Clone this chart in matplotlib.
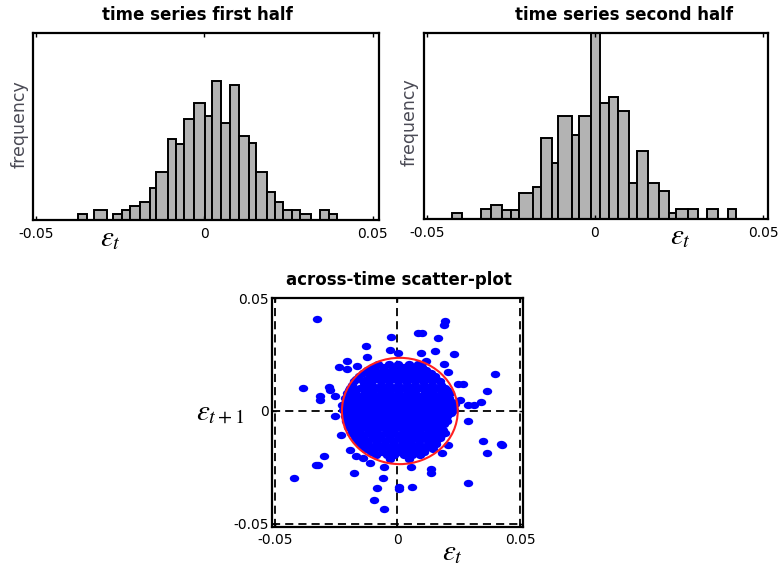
import numpy as np
import matplotlib
matplotlib.use("agg")
import matplotlib.pyplot as plt
from matplotlib.patches import Ellipse
from matplotlib.path import Path
from matplotlib.transforms import Affine2D

# histogram of the first half: bin edges and bar heights (arbitrary frequency units)
h1_edges = [-0.0376, -0.0350, -0.0328, -0.0290, -0.0271, -0.0246, -0.0221, -0.0191,
            -0.0162, -0.0144, -0.0109, -0.0085, -0.0061, -0.0031, 0.0002, 0.0023,
            0.0049, 0.0076, 0.0102, 0.0132, 0.0152, 0.0185, 0.0209, 0.0234,
            0.0261, 0.0285, 0.0316, 0.0343, 0.0369, 0.0394]
h1_heights = [19, 0, 31, 0, 19, 29, 41, 53, 97, 144, 241, 227, 301, 349, 311,
              415, 289, 403, 252, 229, 144, 84, 53, 29, 29, 17, 0, 30, 17]

# histogram of the second half
h2_edges = [-0.0424, -0.0396, -0.0339, -0.0310, -0.0277, -0.0250, -0.0225, -0.0185,
            -0.0161, -0.0127, -0.0109, -0.0069, -0.0048, -0.0012, 0.0015, 0.0041,
            0.0069, 0.0102, 0.0126, 0.0156, 0.0190, 0.0221, 0.0242, 0.0277,
            0.0305, 0.0332, 0.0364, 0.0394, 0.0419]
h2_heights = [20, 0, 30, 43, 28, 28, 78, 98, 243, 168, 311, 253, 311, 600, 348,
              368, 326, 110, 205, 108, 85, 20, 30, 30, 0, 30, 0, 30]

hist_ticks = [-0.05, 0, 0.05]
hist_ticklabels = ['-0.05', '0', '0.05']

# scatter: isolated points around the cloud
outer_x = [-0.0326, 0.0194, 0.0192, 0.0086, 0.0102, 0.0165, -0.0024, 0.0154, 0.0095,
           0.0232, -0.0126, -0.0030, 0.0004, -0.0122, -0.0204, 0.0116, -0.0239,
           -0.0204, -0.0166, 0.0192, 0.0052, -0.0020, 0.0208, 0.0398, 0.0246, 0.0269,
           -0.0384, -0.0280, -0.0276, -0.0316, -0.0316, -0.0255, 0.0364, 0.0341,
           0.0289, 0.0314, 0.0256, -0.0227, -0.0255, 0.0287, -0.0231, 0.0348, 0.0423,
           0.0428, 0.0364, 0.0208, 0.0181, -0.0194, -0.0299, -0.0330, -0.0323,
           -0.0167, -0.0140, -0.0113, -0.0054, 0.0056, 0.0137, 0.0137, -0.0177,
           -0.0421, -0.0058, 0.0287, -0.0082, 0.0007, 0.0007, 0.0059, -0.0095, -0.0054]
outer_y = [0.0408, 0.0400, 0.0383, 0.0347, 0.0347, 0.0326, 0.0330, 0.0268, 0.0259,
           0.0251, 0.0289, 0.0269, 0.0256, 0.0241, 0.0223, 0.0223, 0.0196,
           0.0186, 0.0198, 0.0207, 0.0196, 0.0186, 0.0171, 0.0165, 0.0121, 0.0121,
           0.0100, 0.0107, 0.0092, 0.0066, 0.0048, 0.0067, 0.0088, 0.0040,
           0.0025, 0.0025, 0.0048, 0.0027, -0.0024, -0.0046, -0.0106, -0.0135, -0.0147,
           -0.0153, -0.0188, -0.0150, -0.0188, -0.0173, -0.0202, -0.0242, -0.0242,
           -0.0202, -0.0210, -0.0232, -0.0251, -0.0251, -0.0259, -0.0277, -0.0277,
           -0.0299, -0.0299, -0.0321, -0.0341, -0.0339, -0.0347, -0.0339, -0.0396, -0.0436]

# scatter: dense central cloud, read row by row (y, x positions)
cloud_rows = [
    (0.0208, [-0.0078, -0.0036, 0.0004, 0.0047, 0.0083]),
    (0.0195, [-0.0100, -0.0058, -0.0017, 0.0025, 0.0066, 0.0102]),
    (0.0182, [-0.0124, -0.0092, -0.0053, -0.0018, 0.0016, 0.0052, 0.0088, 0.0118]),
    (0.0169, [-0.0141, -0.0112, -0.0074, -0.0038, -0.0003, 0.0033, 0.0068, 0.0101, 0.0135]),
    (0.0156, [-0.0158, -0.0097, -0.0062, -0.0024, 0.0012, 0.0043, 0.0081, 0.0114, 0.0152]),
    (0.0143, [-0.0167, -0.0124, -0.0087, -0.0052, -0.0016, 0.0018, 0.0053, 0.0089,
              0.0124, 0.0158]),
    (0.0131, [-0.0176, -0.0139, -0.0107, -0.0068, -0.0036, 0.0002, 0.0034, 0.0071,
              0.0104, 0.0141, 0.0172]),
    (0.0117, [-0.0184, -0.0136, -0.0102, -0.0068, -0.0033, 0.0004, 0.0038, 0.0072,
              0.0107, 0.0143, 0.0179]),
    (0.0104, [-0.0192, -0.0153, -0.0121, -0.0083, -0.0052, -0.0014, 0.0021, 0.0054,
              0.0092, 0.0124, 0.0161, 0.0193]),
    (0.0091, [-0.0199, -0.0170, -0.0136, -0.0101, -0.0067, -0.0032, 0.0003, 0.0038,
              0.0073, 0.0108, 0.0142, 0.0177, 0.0202]),
    (0.0079, [-0.0204, -0.0171, -0.0133, -0.0101, -0.0063, -0.0031, 0.0006, 0.0042,
              0.0073, 0.0111, 0.0146, 0.0181, 0.0213]),
    (0.0067, [-0.0193, -0.0158, -0.0123, -0.0087, -0.0052, -0.0017, 0.0019, 0.0054,
              0.0089, 0.0123, 0.0158, 0.0193]),
    (0.0056, [-0.0212, -0.0174, -0.0142, -0.0104, -0.0071, -0.0033, 0.0002, 0.0036,
              0.0069, 0.0106, 0.0138, 0.0176, 0.0209]),
    (0.0042, [-0.0198, -0.0161, -0.0126, -0.0092, -0.0057, -0.0022, 0.0013, 0.0048,
              0.0083, 0.0118, 0.0153, 0.0188, 0.0221]),
    (0.0029, [-0.0216, -0.0181, -0.0143, -0.0112, -0.0074, -0.0041, -0.0004, 0.0031,
              0.0063, 0.0102, 0.0133, 0.0171, 0.0204, 0.0233]),
    (0.0016, [-0.0201, -0.0166, -0.0131, -0.0096, -0.0061, -0.0026, 0.0009, 0.0044,
              0.0079, 0.0114, 0.0149, 0.0184, 0.0216]),
    (0.0004, [-0.0221, -0.0183, -0.0152, -0.0114, -0.0082, -0.0044, -0.0011, 0.0026,
              0.0058, 0.0096, 0.0129, 0.0163, 0.0201, 0.0231]),
    (-0.0009, [-0.0202, -0.0167, -0.0132, -0.0097, -0.0062, -0.0027, 0.0008, 0.0043,
               0.0078, 0.0113, 0.0148, 0.0183, 0.0219]),
    (-0.0021, [-0.0214, -0.0182, -0.0144, -0.0111, -0.0073, -0.0042, -0.0006, 0.0032,
               0.0064, 0.0101, 0.0134, 0.0168, 0.0204]),
    (-0.0033, [-0.0196, -0.0161, -0.0126, -0.0091, -0.0056, -0.0021, 0.0014, 0.0049,
               0.0084, 0.0119, 0.0154, 0.0189]),
    (-0.0046, [-0.0211, -0.0173, -0.0141, -0.0103, -0.0072, -0.0034, 0.0001, 0.0036,
               0.0071, 0.0104, 0.0142, 0.0176, 0.0203]),
    (-0.0058, [-0.0191, -0.0156, -0.0121, -0.0086, -0.0051, -0.0016, 0.0019, 0.0054,
               0.0089, 0.0124, 0.0159, 0.0190]),
    (-0.0071, [-0.0203, -0.0169, -0.0136, -0.0098, -0.0066, -0.0029, 0.0007, 0.0041,
               0.0074, 0.0112, 0.0143, 0.0172]),
    (-0.0083, [-0.0182, -0.0152, -0.0117, -0.0082, -0.0047, -0.0012, 0.0023, 0.0058,
               0.0093, 0.0128, 0.0163, 0.0186]),
    (-0.0096, [-0.0188, -0.0156, -0.0118, -0.0086, -0.0048, -0.0016, 0.0022, 0.0053,
               0.0091, 0.0123, 0.0162, 0.0196]),
    (-0.0108, [-0.0171, -0.0136, -0.0101, -0.0066, -0.0031, 0.0004, 0.0039, 0.0074,
               0.0109, 0.0144, 0.0178]),
    (-0.0121, [-0.0174, -0.0141, -0.0103, -0.0071, -0.0034, 0.0001, 0.0036, 0.0068,
               0.0106, 0.0139, 0.0173]),
    (-0.0133, [-0.0161, -0.0122, -0.0087, -0.0052, -0.0017, 0.0018, 0.0053, 0.0088,
               0.0123, 0.0157]),
    (-0.0146, [-0.0152, -0.0121, -0.0083, -0.0051, -0.0013, 0.0021, 0.0056, 0.0088,
               0.0126, 0.0158]),
    (-0.0158, [-0.0142, -0.0104, -0.0069, -0.0034, 0.0001, 0.0036, 0.0071, 0.0106, 0.0138]),
    (-0.0171, [-0.0133, -0.0096, -0.0061, -0.0023, 0.0011, 0.0046, 0.0078, 0.0113, 0.0146]),
    (-0.0183, [-0.0107, -0.0064, -0.0029, 0.0006, 0.0041, 0.0076, 0.0110]),
    (-0.0194, [-0.0086, -0.0044, -0.0012, 0.0027, 0.0061, 0.0094]),
    (-0.0214, [-0.0031, 0.0046]),
]

scatter_ticks = [-0.05, 0, 0.05]
scatter_ticklabels = ['-0.05', '0', '0.05']
circle_center = (0.001, 0.0)
circle_radius = 0.0236

plt.rcParams['font.family'] = ['DejaVu Sans']
plt.rcParams['mathtext.fontset'] = 'stix'

fig = plt.figure(figsize=(7.83, 5.68), dpi=100)
W, H = 783.0, 568.0


def px_axes(left, top, right, bottom):
    return fig.add_axes([left / W, 1 - bottom / H, (right - left) / W, (bottom - top) / H])


def draw_hist(ax, edges, heights, xlim, ytop):
    edges = np.array(edges)
    heights = np.array(heights, dtype=float)
    keep = heights > 0
    ax.bar(edges[:-1][keep], heights[keep], width=np.diff(edges)[keep], align='edge',
           color='#b3b3b3', edgecolor='black', linewidth=1.4)
    ax.set_xlim(*xlim)
    ax.set_ylim(0, ytop)
    ax.set_yticks([])
    ax.set_xticks(hist_ticks)
    ax.set_xticklabels(hist_ticklabels)
    ax.tick_params(axis='x', direction='in', length=3, width=1, top=True, pad=5,
                   labelsize=10)
    for s in ax.spines.values():
        s.set_linewidth(1.6)


ax1 = px_axes(33.3, 33.3, 379, 220)
draw_hist(ax1, h1_edges, h1_heights, (-0.0508, 0.0518), 558)

ax2 = px_axes(424.3, 33.3, 767.7, 219.3)
draw_hist(ax2, h2_edges, h2_heights, (-0.0507, 0.0513), 558)

ax3 = px_axes(272, 297.7, 523, 526.5)
cloud_x = [x for y, xs in cloud_rows for x in xs]
cloud_y = [y for y, xs in cloud_rows for x in xs]
dot = Path.unit_circle().transformed(Affine2D().scale(1.0, 0.78))
ax3.scatter(cloud_x + outer_x, cloud_y + outer_y, marker=dot, s=46, color='#0000ff',
            linewidths=0, zorder=2)
for v in scatter_ticks:
    ax3.axvline(v, color='black', lw=1.3, linestyle=(0, (4.5, 2.8)), zorder=1)
    ax3.axhline(v, color='black', lw=1.3, linestyle=(0, (4.5, 2.8)), zorder=1)
ax3.add_patch(Ellipse(circle_center, 2 * circle_radius, 2 * circle_radius, fill=False,
                      edgecolor='#ff2020', lw=1.5, zorder=3))
ax3.set_xlim(-0.0511, 0.0512)
ax3.set_ylim(-0.0513, 0.0503)
ax3.set_xticks(scatter_ticks)
ax3.set_xticklabels(scatter_ticklabels)
ax3.set_yticks(scatter_ticks)
ax3.set_yticklabels(scatter_ticklabels)
ax3.tick_params(direction='in', length=3, width=1, top=True, right=True, labelsize=10)
ax3.tick_params(axis='x', pad=5)
ax3.tick_params(axis='y', pad=2)
for s in ax3.spines.values():
    s.set_linewidth(1.6)

title_kw = dict(ha='center', va='center', fontsize=12, fontweight='bold')
fig.text(197 / W, 1 - 15 / H, 'time series first half', **title_kw)
fig.text(624 / W, 1 - 15 / H, 'time series second half', **title_kw)
fig.text(399 / W, 1 - 280 / H, 'across-time scatter-plot', **title_kw)

freq_kw = dict(ha='center', va='center', rotation=90, fontsize=12.5, color='#4a4a55')
fig.text(20 / W, 1 - 124 / H, 'frequency', **freq_kw)
fig.text(410 / W, 1 - 122 / H, 'frequency', **freq_kw)

eps_kw = dict(ha='center', va='center', fontsize=21)
fig.text(110 / W, 1 - 238 / H, r'$\varepsilon_t$', **eps_kw)
fig.text(680 / W, 1 - 236 / H, r'$\varepsilon_t$', **eps_kw)
fig.text(452 / W, 1 - 552 / H, r'$\varepsilon_t$', **eps_kw)
fig.text(220 / W, 1 - 411 / H, r'$\varepsilon_{t+1}$', **eps_kw)

fig.savefig('out.png', dpi=100)
plt.close(fig)
